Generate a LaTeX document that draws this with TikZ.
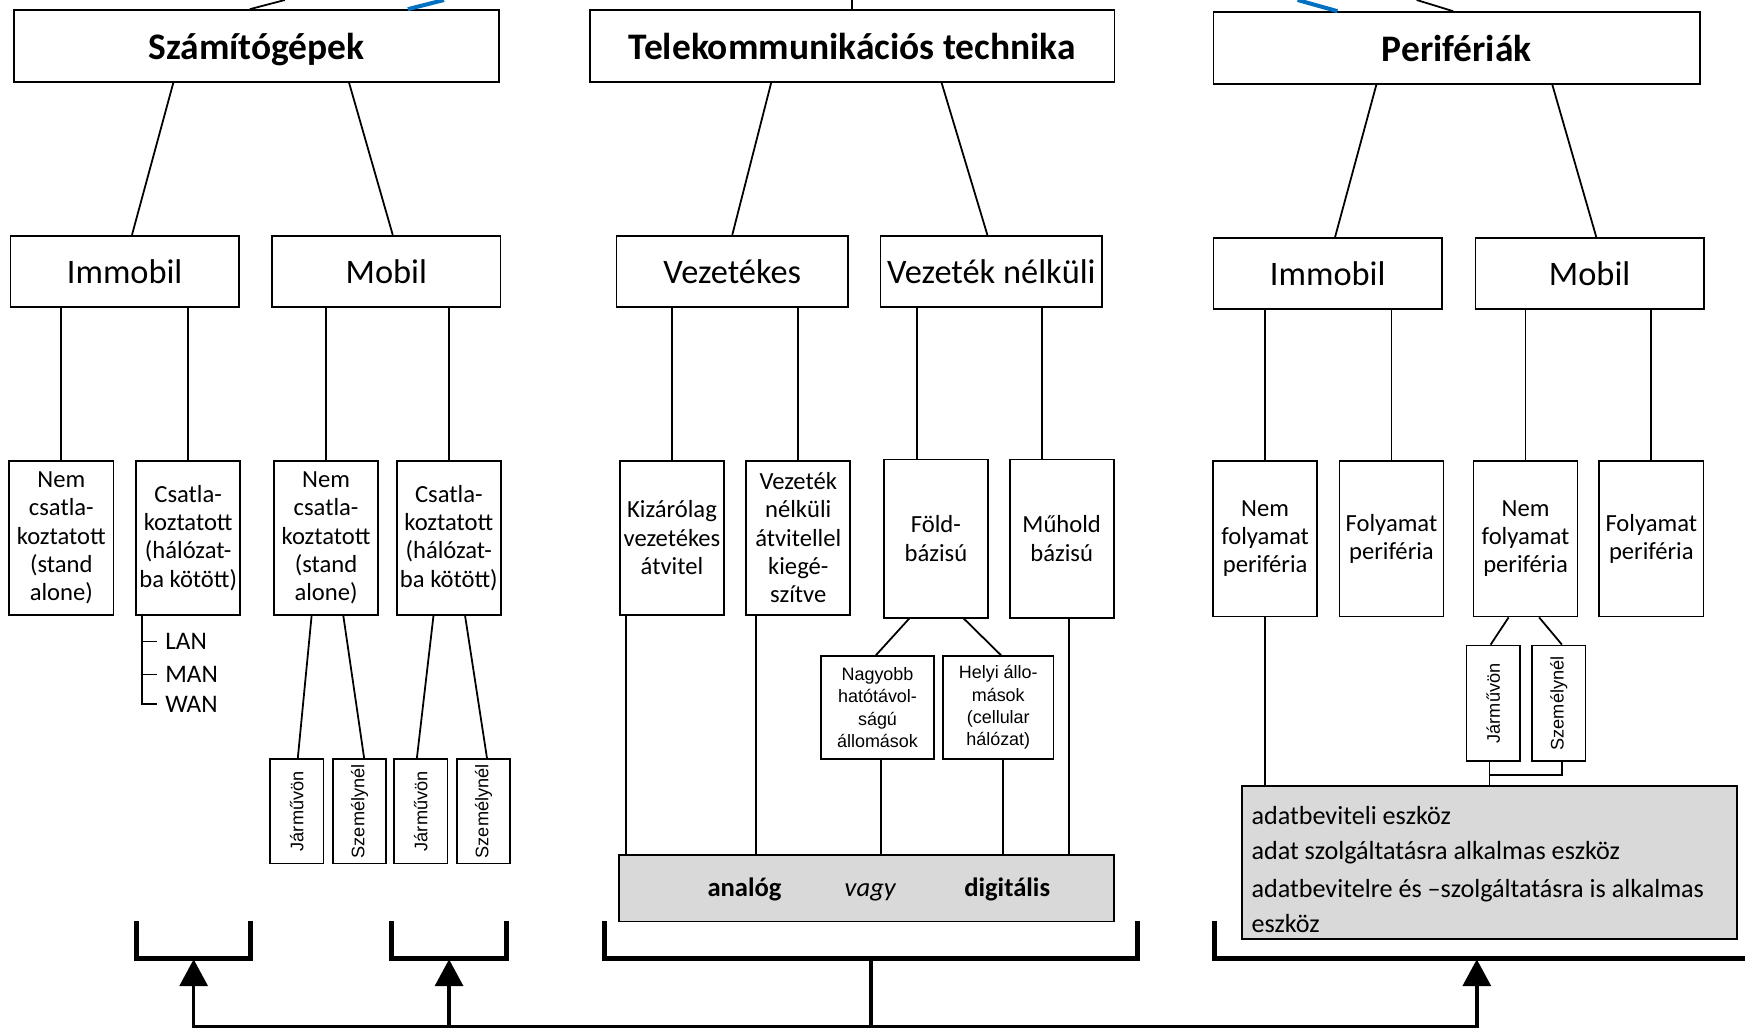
\documentclass[tikz,border=0pt]{standalone}
\usepackage{fontspec}
\usepackage{graphicx}
\setmainfont{Carlito}
\newfontfamily\arialf{Liberation Sans}
\usetikzlibrary{positioning,arrows.meta}
\definecolor{linkblue}{HTML}{0070C0}
\definecolor{panelgray}{HTML}{D9D9D9}

\begin{document}
\begin{tikzpicture}
  [x=1bp, y=-1bp, node distance=18.5bp,
  head/.style={rectangle, draw, line width=1.5bp, minimum width=436bp,
    minimum height=64.4bp, text height=27bp, text depth=3bp,
    font=\bfseries\fontsize{33.8}{40}\selectfont},
  branch/.style={rectangle, draw, line width=1.5bp, minimum width=205.4bp,
    minimum height=63.8bp, inner sep=2bp, font=\fontsize{31}{37}\selectfont},
  leaf/.style={rectangle, draw, line width=1.5bp, minimum width=93.5bp,
    minimum height=138.5bp, align=center, inner sep=1bp,
    font=\fontsize{22.2}{25.6}\selectfont},
  twig/.style={rectangle, draw, line width=1.5bp, minimum width=47.9bp,
    minimum height=94bp, inner sep=1bp, font=\arialf\fontsize{16.4}{19}\selectfont},
  station/.style={rectangle, draw, line width=1.5bp, minimum width=101bp,
    minimum height=92.5bp, align=center, inner sep=1bp,
    font=\arialf\fontsize{16.2}{20.1}\selectfont},
  panel/.style={rectangle, draw, line width=1.5bp, fill=panelgray},
  netlabel/.style={anchor=west, inner xsep=7.5bp, font=\fontsize{22.8}{27}\selectfont},
  wire/.style={line width=1.6bp},
  brace/.style={line width=4.5bp},
  lift/.style={line width=3.2bp},
  tip/.style={-{Triangle[length=24bp, width=25bp]}}]

  \useasboundingbox (0,0) rectangle (1568,926);

  \node[head] (szg) at (230.5,41.2) {Számítógépek};
  \node[head, minimum width=471.7bp] (tel) at (765.7,41.2) {Telekommunikációs technika};
  \node[head, minimum width=437.2bp] (per) at (1309,43) {Perifériák};

  \node[branch] (cimm) at (112,243.7) {Immobil};
  \node[branch] (cmob) [right=28.2bp of cimm] {Mobil};
  \node[branch, minimum width=208bp] (vez) at (658,243.7) {Vezetékes};
  \node[branch, minimum width=199.2bp] (veznk) [right=27.7bp of vez] {Vezeték nélküli};
  \node[branch] (pimm) at (1193,245.8) {Immobil};
  \node[branch] (pmob) [right=28.5bp of pimm] {Mobil};

  \node[leaf] (cnem) at (55.1,483.3) {Nem\\csatla-\\koztatott\\(stand\\alone)};
  \node[leaf] (ccsat) [right=19bp of cnem] {Csatla-\\koztatott\\(hálózat-\\ba kötött)};
  \node[leaf] (mnem) at (293,483.3) {Nem\\csatla-\\koztatott\\(stand\\alone)};
  \node[leaf] (mcsat) [right=15.3bp of mnem] {Csatla-\\koztatott\\(hálózat-\\ba kötött)};
  \node[leaf] (kiz) at (603.8,483.2) {Kizárólag\\vezetékes\\átvitel};
  \node[leaf] (vnk) [right=of kiz] {Vezeték\\nélküli\\átvitellel\\kiegé-\\szítve};
  \node[leaf, minimum height=142.3bp] (fold) at (841,483.9) {Föld-\\bázisú};
  \node[leaf, minimum height=142.3bp] (muh) [right=18bp of fold] {Műhold\\bázisú};
  \node[leaf, minimum height=140bp] (pnf) at (1136.8,484) {Nem\\folyamat\\periféria};
  \node[leaf, minimum height=140bp] (pf) [right=of pnf] {Folyamat\\periféria};
  \node[leaf, minimum height=140bp] (mnf) at (1370.8,484) {Nem\\folyamat\\periféria};
  \node[leaf, minimum height=140bp] (mf) [right=18bp of mnf] {Folyamat\\periféria};

  \node[twig] (cjar) at (266.6,729) {\rotatebox{90}{Járművön}};
  \node[twig] (csze) [right=7bp of cjar] {\rotatebox{90}{Személynél}};
  \node[twig] (mjar) [right=5.7bp of csze] {\rotatebox{90}{Járművön}};
  \node[twig] (msze) [right=7bp of mjar] {\rotatebox{90}{Személynél}};
  \node[twig, minimum height=104bp] (pjar) at (1341.8,632) {\rotatebox{90}{Járművön}};
  \node[twig, minimum height=104bp] (psze) [right=9.4bp of pjar] {\rotatebox{90}{Személynél}};

  \node[station] (nagy) at (788.5,635.8) {Nagyobb\\hatótávol-\\ságú\\állomások};
  \node[station, minimum width=99bp] (helyi) [right=7bp of nagy] {Helyi állo-\\mások\\(cellular\\hálózat)};

  \node[netlabel] (lan) at (140.8,576.5) {LAN};
  \node[netlabel] (man) at (140.8,606) {MAN};
  \node[netlabel] (wan) at (140.8,632.7) {WAN};

  \node[panel, minimum width=445bp, minimum height=60bp] (tgrey) at (778.5,798) {};
  \node[anchor=base, font=\bfseries\fontsize{24}{28}\selectfont] (analog) at (669,805.5) {analóg};
  \node[anchor=base, font=\itshape\fontsize{24}{28}\selectfont] (vagy) at (782,805.5) {vagy};
  \node[anchor=base, font=\bfseries\fontsize{24}{28}\selectfont] (digit) at (905,805.5) {digitális};

  \node[panel, minimum width=445.1bp, minimum height=137.7bp, align=left,
    text width=427.5bp, inner xsep=8.8bp, font=\fontsize{23.6}{31.5}\selectfont]
    (pgrey) at (1338.3,774.9)
    {\spaceskip=0pt\relax\rule{0pt}{28.5bp}adatbeviteli eszköz\\adat szolgáltatásra alkalmas eszköz\\[3bp]adatbevitelre és –szolgáltatásra is alkalmas\\eszköz};

  \coordinate (szgup) at (256,0);
  \coordinate (szgblue) at (399,0);
  \coordinate (perblue) at (1166,0);
  \coordinate (perup) at (1273,0);

  \coordinate (b1) at (123,828);   \coordinate (b1r) at (225,828);   \coordinate (b1m) at (174,862);
  \coordinate (b2) at (352,828);   \coordinate (b2r) at (455,828);   \coordinate (b2m) at (403.5,862);
  \coordinate (b3) at (543,828);   \coordinate (b3r) at (1022,828);  \coordinate (b3m) at (782.5,862);
  \coordinate (b4) at (1091,828);  \coordinate (b4r) at (1575,861);  \coordinate (b4m) at (1327,862);
  \coordinate (f1) at (174,922.5); \coordinate (f2) at (403.5,922.5);
  \coordinate (f3) at (782.5,922.5); \coordinate (f4) at (1327,922.5);

  \draw[wire] ([xshift=-6bp]szg.north) -- (szgup);
  \draw[wire, linkblue, line width=3.6bp] ([xshift=136bp]szg.north) -- (szgblue);
  \draw[wire] (tel.north) -- (tel.north |- szgup);
  \draw[wire, linkblue, line width=3.6bp] ([xshift=-107.2bp]per.north) -- (perblue);
  \draw[wire] ([xshift=-3.3bp]per.north) -- (perup);

  \draw[wire] ([xshift=-74.7bp]szg.south) -- ([xshift=6.6bp]cimm.north);
  \draw[wire] ([xshift=83.1bp]szg.south) -- ([xshift=5.8bp]cmob.north);
  \draw[wire] ([xshift=-72.7bp]tel.south) -- (vez.north);
  \draw[wire] ([xshift=80.3bp]tel.south) -- ([xshift=-3.6bp]veznk.north);
  \draw[wire] ([xshift=-72.2bp]per.south) -- ([xshift=6.6bp]pimm.north);
  \draw[wire] ([xshift=85.8bp]per.south) -- ([xshift=6bp]pmob.north);

  \draw[wire] (cnem.north) -- (cnem.north |- cimm.south);
  \draw[wire] (ccsat.north) -- (ccsat.north |- cimm.south);
  \draw[wire] (mnem.north) -- (mnem.north |- cmob.south);
  \draw[wire] (mcsat.north) -- (mcsat.north |- cmob.south);
  \draw[wire] (kiz.north) -- (kiz.north |- vez.south);
  \draw[wire] (vnk.north) -- (vnk.north |- vez.south);
  \draw[wire] ([xshift=-17.2bp]fold.north) coordinate (fn) -- (fn |- veznk.south);
  \draw[wire] ([xshift=-18bp]muh.north) coordinate (mn) -- (mn |- veznk.south);
  \draw[wire] (pnf.north) -- (pnf.north |- pimm.south);
  \draw[wire] (pf.north) -- (pf.north |- pimm.south);
  \draw[wire] (mnf.north) -- (mnf.north |- pmob.south);
  \draw[wire] (mf.north) -- (mf.north |- pmob.south);

  \draw[wire] ([xshift=6bp]ccsat.south west) coordinate (lanbar) |- (wan.west);
  \draw[wire] (lan.west) -- (lan.west -| lanbar);
  \draw[wire] (man.west) -- (man.west -| lanbar);

  \draw[wire] ([xshift=-13bp]mnem.south) -- ([xshift=1bp]cjar.north);
  \draw[wire] ([xshift=15.5bp]mnem.south) -- ([xshift=4.2bp]csze.north);
  \draw[wire] ([xshift=-13.8bp]mcsat.south) -- ([xshift=-3.5bp]mjar.north);
  \draw[wire] ([xshift=14.6bp]mcsat.south) -- ([xshift=3.1bp]msze.north);
  \draw[wire] ([xshift=-24bp]fold.south) -- ([xshift=-1.5bp]nagy.north);
  \draw[wire] ([xshift=25bp]fold.south) -- ([xshift=2.5bp]helyi.north);
  \draw[wire] ([xshift=-15.2bp]mnf.south) -- ([xshift=-2.4bp]pjar.north);
  \draw[wire] ([xshift=12.2bp]mnf.south) -- ([xshift=2.9bp]psze.north);

  \draw[wire] ([xshift=6bp]kiz.south west) coordinate (k1) -- (k1 |- tgrey.north);
  \draw[wire] ([xshift=9.7bp]vnk.south west) coordinate (k2) -- (k2 |- tgrey.north);
  \draw[wire] ([xshift=3.2bp]nagy.south) coordinate (k3) -- (k3 |- tgrey.north);
  \draw[wire] ([xshift=4.5bp]helyi.south) coordinate (k4) -- (k4 |- tgrey.north);
  \draw[wire] ([xshift=6.6bp]muh.south) coordinate (k5) -- (k5 |- tgrey.north);
  \draw[wire] (pnf.south) -- (pnf.south |- pgrey.north);
  \draw[wire] ([xshift=-3.4bp]pjar.south) coordinate (j1) -- ++(0,11.8) -| ([xshift=2.9bp]psze.south);
  \draw[wire] (j1) -- (j1 |- pgrey.north);

  \draw[brace] (b1) -- ++(0,33) -| (b1r);
  \draw[brace] (b2) -- ++(0,33) -| (b2r);
  \draw[brace] (b3) -- ++(0,33) -| (b3r);
  \draw[brace] (b4) |- (b4r);

  \draw[lift, {Triangle[length=24bp, width=25bp]}-{Triangle[length=24bp, width=25bp]}]
    (b1m) -- (f1) -- (f4) -- (b4m);
  \draw[lift, tip] (f2) -- (b2m);
  \draw[lift] (f3) -- (b3m);

\end{tikzpicture}
\end{document}
